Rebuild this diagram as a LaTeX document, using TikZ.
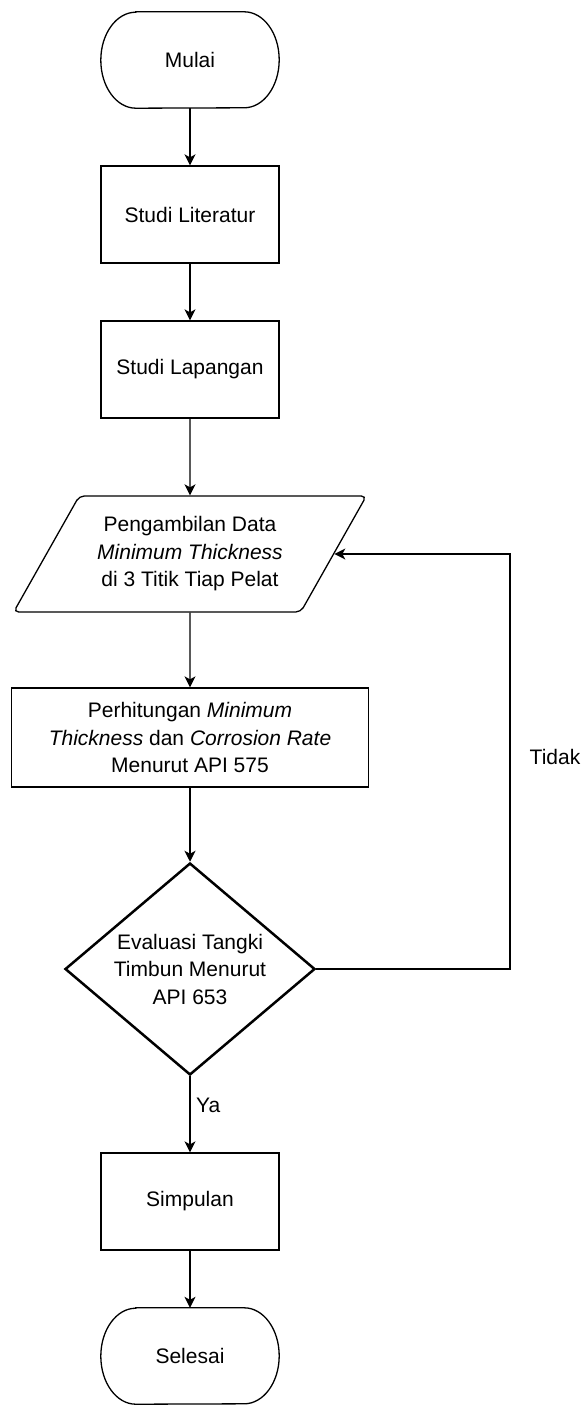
\documentclass[tikz,border=0pt]{standalone}
\usepackage{fontspec}
\setmainfont{Liberation Sans}
\usepackage{tikz}
\usetikzlibrary{shapes,arrows,arrows.meta}

\tikzset{
  terminal/.style={minimum width=178pt, minimum height=96pt, align=center},
  process/.style={draw, line width=1.3pt, minimum width=178pt, minimum height=97pt, align=center},
  dataio/.style={trapezium, trapezium stretches=true, trapezium left angle=55, trapezium right angle=125,
    draw, line width=1.3pt, rounded corners=5pt, minimum width=353pt, minimum height=116pt, align=center},
  decision/.style={diamond, draw, line width=2.5pt, aspect=1.18, inner sep=0pt,
    minimum width=250pt, minimum height=212pt, align=center},
  flow/.style={draw, line width=1.3pt, ->, >={Stealth[length=11pt,width=11pt,inset=3pt]}}
}

\begin{document}
\begin{tikzpicture}[font=\fontsize{21}{27.5}\selectfont]
\useasboundingbox (0,0) rectangle (583pt,-1420pt);

% to write start and end
\node [terminal] (mulai) at (190pt,-60pt) {Mulai};
\draw [line width=1.3pt] ([xshift=35pt]mulai.north west) -- ([xshift=-35pt]mulai.north east)
  arc[start angle=90, end angle=-90, x radius=35pt, y radius=48pt]
  -- ([xshift=35pt]mulai.south west)
  arc[start angle=270, end angle=90, x radius=35pt, y radius=48pt] -- cycle;

\node [terminal] (selesai) at (190pt,-1356pt) {Selesai};
\draw [line width=1.3pt] ([xshift=35pt]selesai.north west) -- ([xshift=-35pt]selesai.north east)
  arc[start angle=90, end angle=-90, x radius=35pt, y radius=48pt]
  -- ([xshift=35pt]selesai.south west)
  arc[start angle=270, end angle=90, x radius=35pt, y radius=48pt] -- cycle;

% to write steps
\node [process] (literatur) at (190pt,-214.5pt) {Studi Literatur};
\node [process] (lapangan) at (190pt,-369.5pt) {Studi Lapangan};
\node [dataio] (data) at (190pt,-554pt) {Pengambilan Data\\\textit{Minimum Thickness}\\di 3 Titik Tiap Pelat};
\node [process, minimum width=357pt, minimum height=99pt] (hitung) at (190pt,-737.5pt)
  {Perhitungan \textit{Minimum}\\\textit{Thickness} dan \textit{Corrosion Rate}\\Menurut API 575};
\node [decision] (evaluasi) at (190pt,-969pt) {Evaluasi Tangki\\Timbun Menurut\\API 653};
\node [process] (simpulan) at (190pt,-1201.5pt) {Simpulan};

% to draw arrows
\draw [flow] (mulai) -- (literatur);
\draw [flow] (literatur) -- (lapangan);
\draw [flow] (lapangan) -- (data);
\draw [flow] (data) -- (hitung);
\draw [flow] (hitung) -- (evaluasi);
\draw [flow] (evaluasi) -- (simpulan);
\draw [flow] (simpulan) -- (selesai);

% to draw loop back with text
\coordinate (balik) at (510pt,-969pt);
\draw [flow] (evaluasi.east) -- (balik) |- (data.east);
\node (tidak) at (555pt,-757pt) {Tidak};
\node [anchor=west, inner sep=0pt] (ya) at (196pt,-1105pt) {Ya};
\end{tikzpicture}
\end{document}
